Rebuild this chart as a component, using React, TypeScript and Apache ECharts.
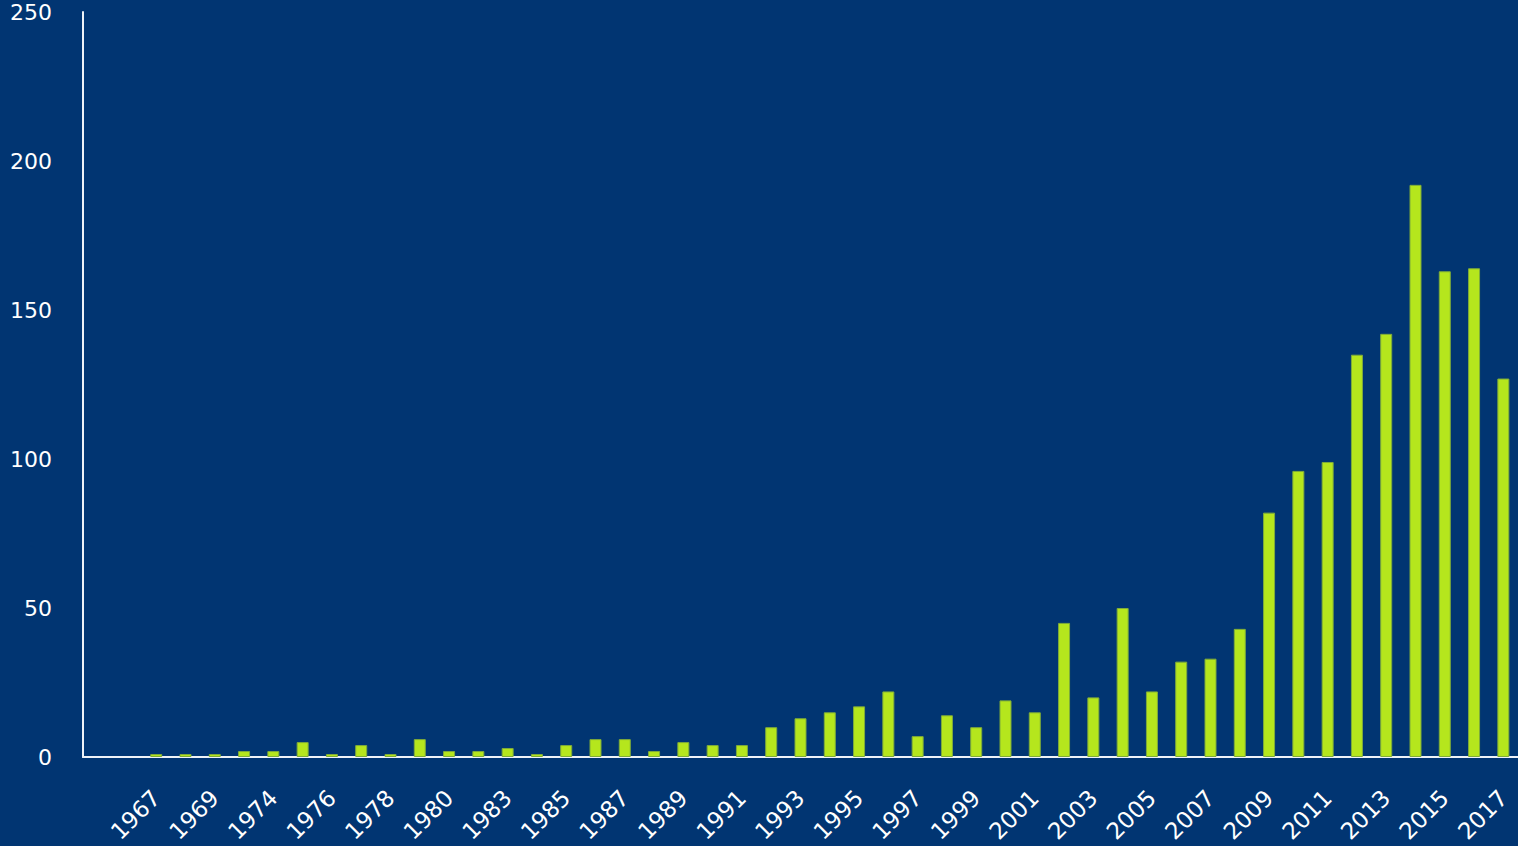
import React, { useEffect, useRef } from "react";
import * as echarts from "echarts";

const years: string[] = [
  "", "",
  "1967", "1968", "1969", "1972", "1974", "1975", "1976", "1977", "1978", "1979",
  "1980", "1981", "1983", "1984", "1985", "1986", "1987", "1988", "1989", "1990",
  "1991", "1992", "1993", "1994", "1995", "1996", "1997", "1998", "1999", "2000",
  "2001", "2002", "2003", "2004", "2005", "2006", "2007", "2008", "2009", "2010",
  "2011", "2012", "2013", "2014", "2015", "2016", "2017",
];

const counts: (number | null)[] = [
  null, null,
  1, 1, 1, 2, 2, 5, 1, 4, 1, 6,
  2, 2, 3, 1, 4, 6, 6, 2, 5, 4,
  4, 10, 13, 15, 17, 22, 7, 14, 10, 19,
  15, 45, 20, 50, 22, 32, 33, 43, 82, 96,
  99, 135, 142, 192, 163, 164, 127,
];

const yTicks = { min: 0, max: 250, interval: 50 };

export default function App() {
  const ref = useRef<HTMLDivElement>(null);
  useEffect(() => {
    if (!ref.current) return;
    const chart = echarts.init(ref.current, undefined, { renderer: "svg" });
    const font = "DejaVu Sans";
    chart.setOption({
      animation: false,
      backgroundColor: "#013572",
      grid: { left: 83, right: 0, top: 12, bottom: 89, containLabel: false },
      xAxis: {
        type: "category",
        data: years,
        axisLine: { show: true, lineStyle: { color: "#eef2f7", width: 2 } },
        axisTick: { show: false },
        axisLabel: {
          interval: 1,
          rotate: 45,
          margin: 37,
          color: "#ffffff",
          fontFamily: font,
          fontSize: 23,
        },
      },
      yAxis: {
        type: "value",
        min: yTicks.min,
        max: yTicks.max,
        interval: yTicks.interval,
        splitLine: { show: false },
        axisLine: { show: true, lineStyle: { color: "#eef2f7", width: 2 } },
        axisTick: { show: false },
        axisLabel: {
          margin: 31,
          color: "#ffffff",
          fontFamily: font,
          fontSize: 22,
        },
      },
      series: [
        {
          type: "bar",
          data: counts,
          barWidth: 12,
          itemStyle: {
            color: "#b5e61d",
            borderColor: "#7fab3a",
            borderWidth: 1,
          },
        },
      ],
    });
    return () => chart.dispose();
  }, []);
  return (
    <div
      ref={ref}
      style={{ position: "fixed", left: 0, top: 0, width: 1518, height: 846 }}
    />
  );
}
